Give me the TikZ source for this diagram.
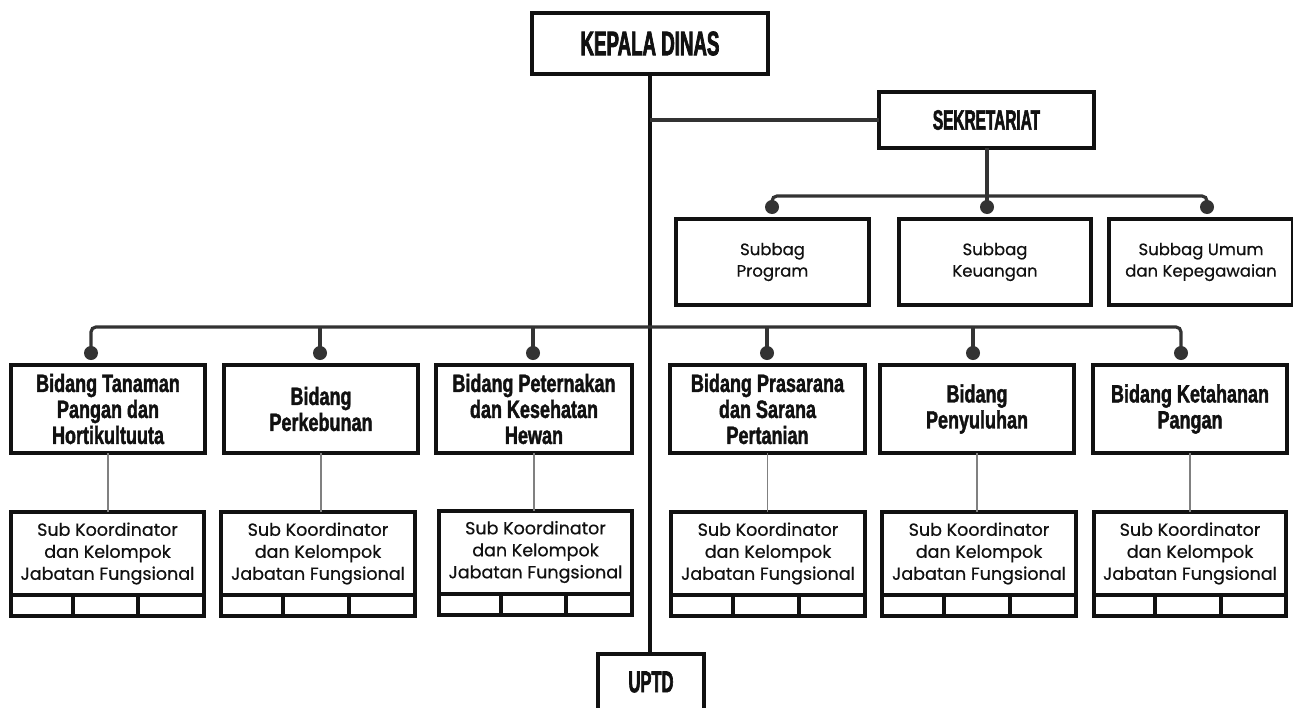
\documentclass[tikz,border=0pt]{standalone}
\usepackage{fontspec}
\setmainfont{Poppins}[FakeBold=0.5]
\newfontfamily\headfont{Liberation Sans}[FakeStretch=0.55, FakeBold=2]
\newfontfamily\bidfont{Liberation Sans}[FakeStretch=0.72, FakeBold=1.6]
\usetikzlibrary{calc}
\definecolor{ink}{HTML}{111111}
\definecolor{wire}{HTML}{333333}
\definecolor{thinwire}{HTML}{808080}
\tikzset{
  frame/.style={draw=ink, line width=4pt, inner sep=0pt, outer sep=0pt, rectangle, align=center, fill=white, text=ink},
  head/.style={frame, font=\headfont\bfseries\fontsize{34}{36}\selectfont},
  sekhead/.style={frame, font=\headfont\bfseries\fontsize{28}{30}\selectfont},
  uptdhead/.style={frame, font=\headfont\bfseries\fontsize{30}{32}\selectfont},
  bid/.style={frame, font=\bidfont\bfseries\fontsize{25}{26}\selectfont, minimum height=88pt},
  subk/.style={frame, font=\fontsize{17.5}{22}\selectfont, minimum height=83pt},
  subbag/.style={frame, font=\fontsize{16.5}{21.5}\selectfont, minimum height=86pt},
  wireline/.style={draw=wire, line width=3.2pt},
  trunkline/.style={draw=ink, line width=3.4pt},
  thinline/.style={draw=thinwire, line width=1.3pt},
  joint/.style={circle, fill=wire, inner sep=0pt, minimum size=14pt},
  cellline/.style={draw=ink, line width=4pt},
}
\begin{document}
\begin{tikzpicture}[x=1pt,y=-1pt]
\useasboundingbox (0,0) rectangle (1293,707);
\fill[white] (0,0) rectangle (1293,707);

% top
\node[head, minimum width=236pt, minimum height=61pt] (kd) at (650,43.5) {KEPALA DINAS};
\node[sekhead, minimum width=215pt, minimum height=56pt] (sek) at (986.5,120) {SEKRETARIAT};
\node[uptdhead, minimum width=106pt, minimum height=56pt] (uptd) at (651,682) {UPTD};

% subbag
\node[subbag, minimum width=193pt] (sp) at (772.5,262) {Subbag\\Program};
\node[subbag, minimum width=192pt] (sk) at (995,262) {Subbag\\Keuangan};
\node[subbag, minimum width=184pt] (su) at (1201,262) {Subbag Umum\\dan Kepegawaian};

% bidang
\node[bid, minimum width=194pt] (b1) at (108,409) {Bidang Tanaman\\Pangan dan\\Hortikultuuta};
\node[bid, minimum width=194pt] (b2) at (321,409) {Bidang\\Perkebunan};
\node[bid, minimum width=196pt] (b3) at (534,409) {Bidang Peternakan\\dan Kesehatan\\Hewan};
\node[bid, minimum width=195pt] (b4) at (767.5,409) {Bidang Prasarana\\dan Sarana\\Pertanian};
\node[bid, minimum width=194pt] (b5) at (977,409) {Bidang\\Penyuluhan};
\node[bid, minimum width=194pt] (b6) at (1190,409) {Bidang Ketahanan\\Pangan};

% sub koordinator
\node[subk, minimum width=193pt] (s1) at (107.5,553.5) {Sub Koordinator\\dan Kelompok\\Jabatan Fungsional};
\node[subk, minimum width=194pt] (s2) at (318,553.5) {Sub Koordinator\\dan Kelompok\\Jabatan Fungsional};
\node[subk, minimum width=193pt] (s3) at (535.5,552) {Sub Koordinator\\dan Kelompok\\Jabatan Fungsional};
\node[subk, minimum width=194pt] (s4) at (768,553.5) {Sub Koordinator\\dan Kelompok\\Jabatan Fungsional};
\node[subk, minimum width=194pt] (s5) at (979,553.5) {Sub Koordinator\\dan Kelompok\\Jabatan Fungsional};
\node[subk, minimum width=192pt] (s6) at (1190,553.5) {Sub Koordinator\\dan Kelompok\\Jabatan Fungsional};

\foreach \s in {s1,s2,s3,s4,s5,s6}{
  \draw[cellline] (\s.south west) rectangle ([yshift=-21pt]\s.south east);
  \draw[cellline] ($(\s.south west)!0.32!(\s.south east)$) -- ++(0,21);
  \draw[cellline] ($(\s.south west)!0.66!(\s.south east)$) -- ++(0,21);
}

% trunk
\draw[trunkline] (kd.south) -- (kd.south |- uptd.north);
\draw[wireline] (kd.south |- sek.west) -- (sek.west);

% secretariat bus
\coordinate (dp) at (772,207);
\coordinate (dk) at (987,207);
\coordinate (du) at (1207,207);
\coordinate (sbus) at (987,196);
\draw[wireline, rounded corners=5pt] (dp) -- (dp |- sbus) -- (du |- sbus) -- (du);
\draw[wireline] (sek.south -| dk) -- (dk);
\foreach \d in {dp,dk,du} \node[joint] at (\d) {};

% main bus
\coordinate (mbus) at (651,327);
\coordinate (d1) at (91,353);
\coordinate (d2) at (320,353);
\coordinate (d3) at (533,353);
\coordinate (d4) at (767,353);
\coordinate (d5) at (973,353);
\coordinate (d6) at (1181,353);
\draw[wireline, rounded corners=5pt] (d1) -- (d1 |- mbus) -- (d6 |- mbus) -- (d6);
\foreach \d in {d2,d3,d4,d5} \draw[wireline] (\d |- mbus) -- (\d);
\foreach \d in {d1,d2,d3,d4,d5,d6} \node[joint] at (\d) {};

% bidang to sub
\foreach \i in {1,...,6} \draw[thinline] (b\i.south) -- (b\i.south |- s\i.north);
\end{tikzpicture}
\end{document}
